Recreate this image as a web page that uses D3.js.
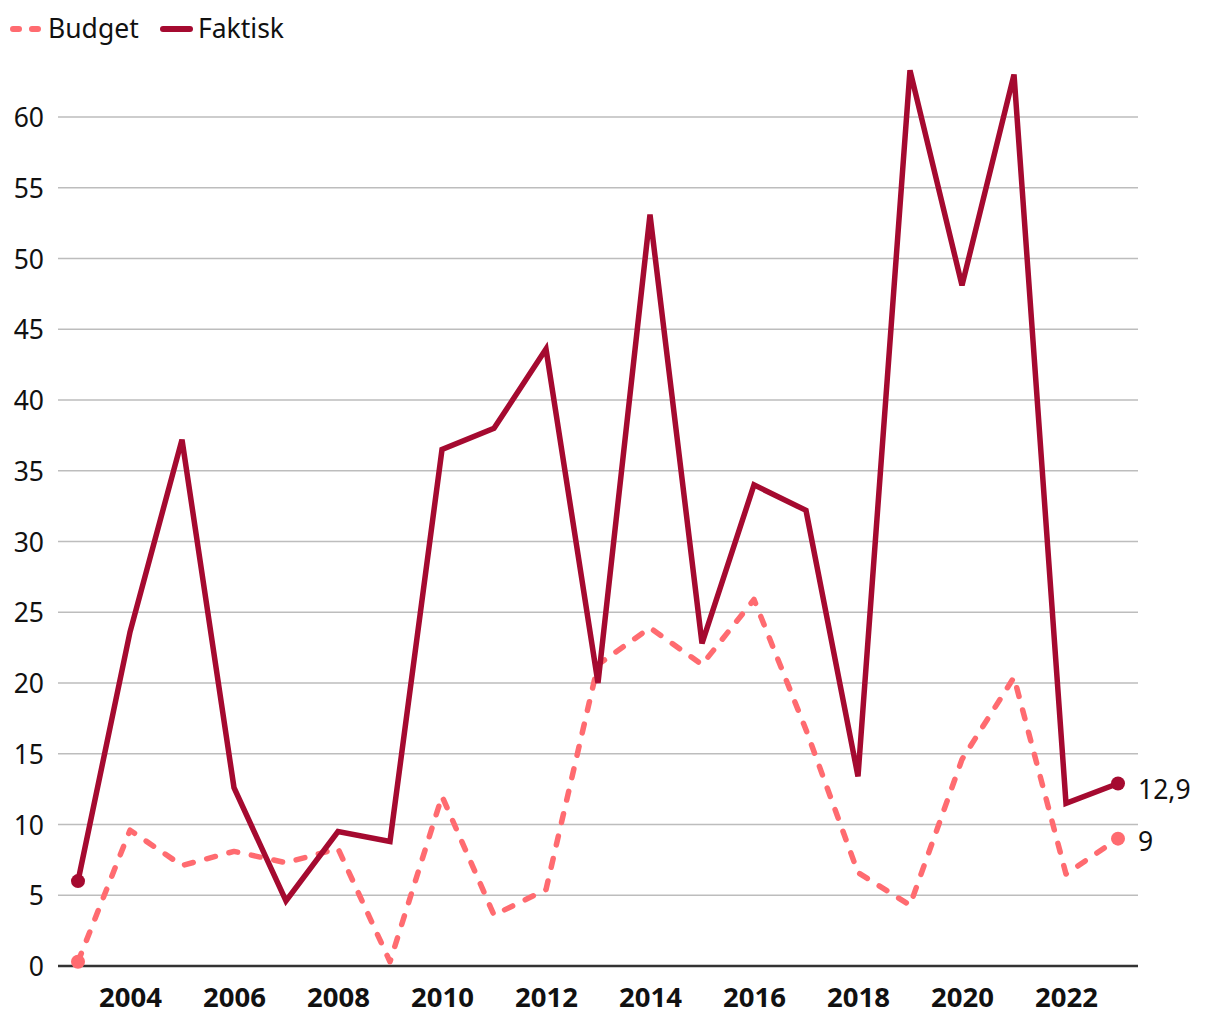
<!DOCTYPE html>
<html>
<head>
<meta charset="utf-8">
<script src="https://cdn.jsdelivr.net/npm/d3@7"></script>
<style>
  body { margin: 0; background: #fff; }
  svg { font-family: "Noto Sans", "Open Sans", sans-serif; }
</style>
</head>
<body>
<svg id="chart" width="1220" height="1020"></svg>
<script>
const years = d3.range(2003, 2024);
const budget = [0.3, 9.6, 7.1, 8.1, 7.3, 8.3, 0.3, 12.0, 3.6, 5.4, 21.3, 23.9, 21.3, 25.9, 16.7, 6.6, 4.3, 14.6, 20.4, 6.5, 9.0];
const faktisk = [6.0, 23.6, 37.2, 12.6, 4.6, 9.5, 8.8, 36.5, 38.0, 43.6, 20.0, 53.1, 22.8, 34.0, 32.2, 13.4, 63.3, 48.1, 63.0, 11.5, 12.9];
const yTicks = [0, 5, 10, 15, 20, 25, 30, 35, 40, 45, 50, 55, 60];
const xTicks = [2004, 2006, 2008, 2010, 2012, 2014, 2016, 2018, 2020, 2022];
const endLabels = ["9", "12,9"];

const colBudget = "#ff6b70";
const colFaktisk = "#a50a30";

const svg = d3.select("#chart");
const left = 58, right = 1138;

const x = d3.scaleLinear().domain([2003, 2023]).range([78, 1118]);
const y = d3.scaleLinear().domain([0, 60]).range([966, 117]);

// gridlines
svg.append("g")
  .selectAll("line")
  .data(yTicks.filter(d => d > 0))
  .join("line")
  .attr("x1", left).attr("x2", right)
  .attr("y1", d => y(d)).attr("y2", d => y(d))
  .attr("stroke", "#bdbdbd").attr("stroke-width", 1.5);

// y labels
svg.append("g")
  .selectAll("text")
  .data(yTicks)
  .join("text")
  .attr("x", 44).attr("y", d => y(d) + 10)
  .attr("text-anchor", "end")
  .attr("font-size", 26.5)
  .attr("fill", "#111")
  .text(d => d);

// x axis
const xAxis = svg.append("g")
  .attr("transform", `translate(0,${y(0)})`)
  .call(d3.axisBottom(x).tickValues(xTicks).tickFormat(d3.format("d")).tickSize(0).tickPadding(21));
xAxis.select(".domain").remove();
xAxis.selectAll("text")
  .attr("font-size", 27.5).attr("font-weight", "bold").attr("fill", "#111")
  .attr("font-family", "'Noto Sans', sans-serif");
svg.append("line")
  .attr("x1", left).attr("x2", right)
  .attr("y1", y(0)).attr("y2", y(0))
  .attr("stroke", "#333").attr("stroke-width", 2.5);

const line = d3.line().x((d, i) => x(years[i])).y(d => y(d));

svg.append("path")
  .datum(budget)
  .attr("d", line)
  .attr("fill", "none")
  .attr("stroke", colBudget)
  .attr("stroke-width", 5.5)
  .attr("stroke-linecap", "round")
  .attr("stroke-linejoin", "round")
  .attr("stroke-dasharray", "9 14");

svg.append("path")
  .datum(faktisk)
  .attr("d", line)
  .attr("fill", "none")
  .attr("stroke", colFaktisk)
  .attr("stroke-width", 5.5)
  .attr("stroke-linejoin", "miter");

// end dots
const n = years.length - 1;
[[budget, colBudget], [faktisk, colFaktisk]].forEach(([s, c]) => {
  svg.append("circle").attr("cx", x(years[0])).attr("cy", y(s[0])).attr("r", 7).attr("fill", c);
  svg.append("circle").attr("cx", x(years[n])).attr("cy", y(s[n])).attr("r", 7).attr("fill", c);
});

// end labels
svg.append("text").attr("x", 1138).attr("y", y(budget[n]) + 12)
  .attr("font-size", 26.5).attr("fill", "#111").text(endLabels[0]);
svg.append("text").attr("x", 1138).attr("y", y(faktisk[n]) + 16)
  .attr("font-size", 26.5).attr("fill", "#111").text(endLabels[1]);

// legend
const lg = svg.append("g");
lg.append("line").attr("x1", 13).attr("x2", 38).attr("y1", 29).attr("y2", 29)
  .attr("stroke", colBudget).attr("stroke-width", 6).attr("stroke-linecap", "round")
  .attr("stroke-dasharray", "6 13");
lg.append("text").attr("x", 48).attr("y", 38).attr("font-size", 26.5).attr("fill", "#111").text("Budget");
lg.append("line").attr("x1", 163).attr("x2", 190).attr("y1", 29).attr("y2", 29)
  .attr("stroke", colFaktisk).attr("stroke-width", 6).attr("stroke-linecap", "round");
lg.append("text").attr("x", 198).attr("y", 38).attr("font-size", 26.5).attr("fill", "#111").text("Faktisk");
</script>
</body>
</html>
